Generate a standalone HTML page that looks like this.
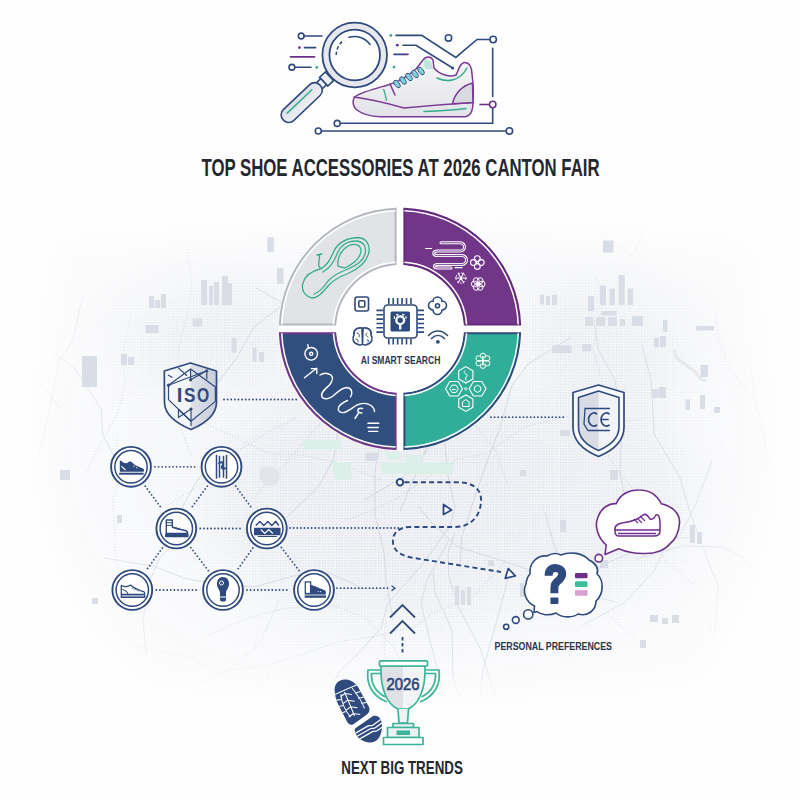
<!DOCTYPE html>
<html><head><meta charset="utf-8"><style>
html,body{margin:0;padding:0;background:#fff;}
body{width:800px;height:800px;overflow:hidden;font-family:"Liberation Sans",sans-serif;}
svg{display:block}
</style></head><body>
<svg width="800" height="800" viewBox="0 0 800 800">
<rect width="800" height="800" fill="#fefefe"/>
<defs>
<pattern id="dots" width="2.8" height="2.8" patternUnits="userSpaceOnUse"><rect x="0" y="0" width="1.2" height="1.2" fill="#c5cbd8"/></pattern>
<filter id="bl" x="-20%" y="-20%" width="140%" height="140%"><feGaussianBlur stdDeviation="16"/></filter>
<radialGradient id="mg" gradientUnits="userSpaceOnUse" cx="400" cy="450" r="330" gradientTransform="translate(400,450) scale(1.15,0.8) translate(-400,-450)">
<stop offset="0" stop-color="#fff" stop-opacity="1"/>
<stop offset="0.7" stop-color="#fff" stop-opacity="0.8"/>
<stop offset="1" stop-color="#fff" stop-opacity="0.35"/>
</radialGradient>
<mask id="mc" maskUnits="userSpaceOnUse" x="0" y="0" width="800" height="800"><g filter="url(#bl2)" fill="#fff"><ellipse cx="400" cy="500" rx="190" ry="125"/><ellipse cx="205" cy="330" rx="100" ry="55"/><ellipse cx="615" cy="340" rx="90" ry="70"/><ellipse cx="580" cy="500" rx="120" ry="105"/></g></mask>
<filter id="bl2" x="-30%" y="-30%" width="160%" height="160%"><feGaussianBlur stdDeviation="22"/></filter>
<mask id="mm" maskUnits="userSpaceOnUse" x="0" y="0" width="800" height="800"><g filter="url(#bl)"><path d="M60,250 Q250,232 420,240 Q600,232 745,250 L765,450 Q755,600 690,675 Q420,700 150,675 Q60,600 45,450 Z" fill="url(#mg)"/></g></mask>
</defs>
<g mask="url(#mm)">
<rect x="0" y="150" width="800" height="650" fill="#f8f9fb"/>
<rect x="0" y="150" width="800" height="650" fill="url(#dots)" opacity="0.26"/>
<g mask="url(#mc)"><rect x="0" y="150" width="800" height="650" fill="#f0f2f6"/><rect x="0" y="150" width="800" height="650" fill="url(#dots)" opacity="0.6"/></g>
<path d="M364,500 L403,477 L433,444 L458,415 L471,384 L472,348 L489,313 L505,285 M364,589 L332,574 L306,573 L286,578 L254,587 L219,585 L184,578 L153,566 L104,558 M777,640 L776,605 L760,572 L742,557 L722,547 L682,546 L636,559 M60,408 L35,378 L24,352 L2,331 L-13,291 L-31,271 L-51,262 L-70,245 M445,444 L448,476 L455,507 L450,526 L421,566 L388,603 L381,628 L356,656 L340,671 L325,700 M27,525 L29,503 L33,476 L41,446 L52,398 L59,361 L73,340 L83,294 M642,345 L651,380 L653,412 L654,434 L666,454 L680,478 L689,509 L705,553 L718,586 L715,635 M116,460 L103,435 L101,409 L86,385 L73,367 L48,348 L30,333 L-9,308 L-29,273 M545,512 L554,545 L566,572 L595,597 L616,602 M256,288 L293,309 L319,342 L339,381 L341,411 L334,458 L319,486 L286,518 M455,532 L448,553 L449,577 L459,608 L481,650 L491,683 L502,717 L513,751 L523,771 M37,699 L59,725 L69,755 L92,785 L118,819 L152,852 L172,871 L193,889 L224,920 M594,320 L598,349 L615,380 L622,425 L620,473 L625,498 M362,358 L374,391 L382,432 L375,470 L375,515 L384,552 L386,581 L393,619 M449,540 L427,580 L421,603 L430,641 L440,679 L445,723 M748,562 L771,597 L781,632 L800,651 L817,683 L819,718 L808,740 L779,769 M190,425 L207,396 L236,359 L254,327 L289,300 L322,292 L348,290 L392,297 M508,579 L495,627 L483,669 L478,716 L464,743 L463,776 L459,819 L457,840 M635,252 L649,214 L672,189 L717,175 L756,163 L799,147 M460,565 L462,536 L474,499 L489,456 L500,428 L512,385 L528,364 L570,338 M418,506 L431,522 L458,547 L503,561 L550,577 L573,577 L617,559 L661,540 L693,537 M207,467 L194,486 L184,504 L173,544 L159,559 L151,578 L143,619 L146,654 M400,511 L410,487 L423,457 L433,426 L441,402 L442,364 L448,328 L467,295 L488,278 M583,625 L624,603 L654,571 L664,550 L681,534 L695,506 L712,461 M433,572 L435,593 L452,630 L453,679 L466,711 L471,746 L470,772 L479,793 L506,817 L533,842" stroke="#d0d5e0" stroke-width="1" fill="none" stroke-linejoin="round"/>
<path d="M131,312 L122,359 L126,381 L118,413 L103,439 L87,471 M347,520 L371,511 L399,497 L438,470 L458,459 L487,453 L524,427 L570,416 L606,423 L644,419 M279,601 L261,641 L239,664 L197,684 L155,694 M602,423 L605,394 L593,349 L603,303 L596,276 M751,369 L756,405 L768,453 L773,494 L766,543 L778,579 L780,607 L784,628 M169,408 L196,419 L226,433 L267,453 L300,455 L336,462 L381,480 M314,689 L280,702 L248,711 L221,718 L193,729 L161,741 M225,685 L211,670 L193,658 L152,649 L105,643 L85,636 L53,599 L10,580 L-22,568 L-40,548 M418,689 L393,646 L364,617 L334,606 L288,608 L264,613 L241,621 L206,636 M506,561 L472,598 L433,613 L414,627 L372,637 L341,641 L303,654 L267,665 L225,671 L200,683 M765,678 L781,666 L794,650 L801,624 L801,581 M714,300 L717,331 L727,364 L754,401 L765,433 L766,478 L758,510 M588,415 L610,459 L632,488 L651,532 L665,560 L700,590 M80,262 L54,239 L44,222 L13,186 L-11,153 L-36,118 L-69,85 L-104,66 M269,673 L245,714 L206,741 L171,769 L152,791 L125,831 L102,845 L78,865 M296,418 L268,432 L248,445 L225,457 L204,483 L166,506 M188,249 L192,288 L188,310 L178,352 L181,374 L178,421 L192,458 M129,593 L115,561 L115,531 L113,501 L120,472 L117,437 M632,256 L596,229 L565,196 L546,155 L543,106 M507,482 L496,451 L469,418 L463,388 L450,365 M343,366 L384,357 L406,347 L454,347 L474,352 M386,620 L384,647 L391,687 L394,714 L405,740 L434,772 M257,494 L281,469 L312,432 L344,403 L363,361 L371,336 L370,292 L389,252 M608,614 L642,646 L655,676 L675,702 L685,733 L685,757 M710,625 L717,652 L723,676 L722,696 L705,738 L691,756 L672,793 L670,827 L668,876 L663,921" stroke="#c9cfdb" stroke-width="1.1" fill="none" stroke-dasharray="1 2"/>
<path d="M675,350 C672,360 690,365 695,372 C700,378 702,382 706,380" stroke="#d5d9e2" stroke-width="3" fill="none"/>
</g>
<rect x="201" y="280" width="6" height="25" fill="#d9dde6"/>
<rect x="209" y="286" width="4" height="19" fill="#d9dde6"/>
<rect x="214" y="282" width="5" height="23" fill="#d9dde6"/>
<rect x="222" y="276" width="6" height="29" fill="#d9dde6"/>
<rect x="228" y="283" width="4" height="22" fill="#d9dde6"/>
<rect x="149" y="296" width="5" height="12" fill="#d9dde6"/>
<rect x="155" y="300" width="5" height="8" fill="#d9dde6"/>
<rect x="161" y="294" width="5" height="14" fill="#d9dde6"/>
<rect x="82" y="356" width="15" height="31" fill="#d9dde6"/>
<rect x="121" y="354" width="6" height="11" fill="#d9dde6"/>
<rect x="128" y="357" width="6" height="8" fill="#d9dde6"/>
<rect x="145.5" y="325" width="13" height="8" fill="#d9dde6"/>
<rect x="192.6" y="318.5" width="9.7" height="8" fill="#d9dde6"/>
<rect x="231.6" y="338" width="5" height="14.6" fill="#d9dde6"/>
<rect x="252.6" y="347.7" width="4" height="14" fill="#d9dde6"/>
<rect x="259" y="352" width="5" height="10" fill="#d9dde6"/>
<rect x="267.3" y="237.3" width="6.5" height="14.7" fill="#d9dde6"/>
<rect x="277" y="268" width="6.5" height="16" fill="#d9dde6"/>
<rect x="588" y="296" width="6" height="15" fill="#d9dde6"/>
<rect x="600" y="285.5" width="6" height="19.5" fill="#d9dde6"/>
<rect x="609.6" y="288.5" width="5.4" height="16.5" fill="#d9dde6"/>
<rect x="618.6" y="275" width="6" height="30" fill="#d9dde6"/>
<rect x="627.6" y="288.5" width="5.4" height="16.5" fill="#d9dde6"/>
<rect x="540" y="294.5" width="4" height="10" fill="#d9dde6"/>
<rect x="546" y="296" width="4" height="9" fill="#d9dde6"/>
<rect x="552" y="295" width="5" height="10" fill="#d9dde6"/>
<rect x="585" y="317" width="8" height="9" fill="#d9dde6"/>
<rect x="596" y="317" width="9" height="9" fill="#d9dde6"/>
<rect x="608" y="317" width="9" height="9" fill="#d9dde6"/>
<rect x="620" y="319" width="5" height="7" fill="#d9dde6"/>
<rect x="632" y="316" width="11" height="10" fill="#d9dde6"/>
<rect x="601.5" y="311" width="15" height="4.5" fill="#d9dde6"/>
<rect x="663" y="320" width="4.5" height="12" fill="#d9dde6"/>
<rect x="654" y="338" width="5" height="9" fill="#d9dde6"/>
<rect x="660" y="336" width="6" height="11" fill="#d9dde6"/>
<rect x="552" y="345.5" width="19.5" height="7.5" fill="#d9dde6"/>
<rect x="582" y="344" width="9" height="7.5" fill="#d9dde6"/>
<rect x="652.5" y="389" width="6" height="9" fill="#d9dde6"/>
<rect x="659" y="387" width="7" height="11" fill="#d9dde6"/>
<rect x="700.5" y="365" width="7.5" height="12" fill="#d9dde6"/>
<rect x="685.5" y="399.5" width="4.5" height="10.5" fill="#d9dde6"/>
<rect x="714" y="407" width="6" height="6" fill="#d9dde6"/>
<rect x="696" y="326" width="18" height="4.5" fill="#d9dde6"/>
<rect x="603" y="240.5" width="10.5" height="12" fill="#d9dde6"/>
<rect x="365.6" y="452.7" width="11.4" height="8.3" fill="#d9dde6"/>
<rect x="455" y="586" width="4" height="19" fill="#d9dde6"/>
<rect x="461" y="590" width="4" height="15" fill="#d9dde6"/>
<rect x="467" y="587" width="4" height="18" fill="#d9dde6"/>
<rect x="520" y="583" width="4" height="14" fill="#d9dde6"/>
<rect x="526" y="587" width="4" height="10" fill="#d9dde6"/>
<rect x="600" y="560" width="8" height="8" fill="#d9dde6"/>
<rect x="640" y="640" width="6" height="8" fill="#d9dde6"/>
<rect x="488" y="560" width="6" height="6" fill="#d9dde6"/>
<rect x="690" y="525" width="5" height="18" fill="#d9dde6"/>
<rect x="697" y="532" width="5" height="12" fill="#d9dde6"/>
<rect x="650" y="615" width="8" height="7" fill="#d9dde6"/>
<rect x="662" y="618" width="6" height="6" fill="#d9dde6"/>
<rect x="672" y="615" width="7" height="8" fill="#d9dde6"/>
<rect x="560" y="430" width="10" height="6" fill="#d9dde6"/>
<rect x="520" y="470" width="6" height="6" fill="#d9dde6"/>
<rect x="610" y="470" width="8" height="10" fill="#d9dde6"/>
<rect x="640" y="500" width="5" height="5" fill="#d9dde6"/>
<rect x="560" y="520" width="6" height="12" fill="#d9dde6"/>
<rect x="117" y="515" width="5" height="8" fill="#d9dde6"/>
<rect x="92" y="598" width="6" height="6" fill="#d9dde6"/>
<rect x="60" y="470" width="10" height="10" fill="#d9dde6"/>
<rect x="700" y="395" width="5" height="14" fill="#d9dde6"/>
<path d="M260,470 C265,465 275,466 279,472 C282,480 276,487 268,486 C262,485 258,478 260,470Z" fill="#e2e5ec"/>
<path d="M302,440 H341 V449.5 H305Z M380,462.5 H455 L452,474 H383Z M385,452 H400 V460 H388Z M405,455 H425 L420,462 H405Z M332,462 H350 L352,480 H336Z" fill="#dcefe8"/>
<g stroke="#2f4a7e" stroke-width="1.6" fill="none" stroke-linecap="round">
<circle cx="301.2" cy="36" r="2.9" fill="#fff"/><path d="M304.2,36H322"/>
<path d="M304.4,47.6H315.6"/>
<circle cx="291.9" cy="67.25" r="2.9" fill="#fff"/><path d="M294.9,67.25H311"/>
<path d="M396,35.4H421.7L455.8,57.4L477,39.5H490"/>
<circle cx="493.2" cy="39.5" r="3.2" fill="#fff"/>
<circle cx="448.5" cy="37.9" r="3.2" fill="#fff"/>
<path d="M403,45.2H416L451.5,67.2"/>
<path d="M394,54.4H404"/>
<path d="M492.7,48.4V96.4"/>
<path d="M492.7,108V123.3H340.3"/>
<circle cx="337.2" cy="123.4" r="3" fill="#fff"/>
<path d="M321.4,131H506.2"/>
<circle cx="318.3" cy="131" r="3" fill="#fff"/>
<circle cx="509.4" cy="131" r="3.2" fill="#fff"/>
</g>
<path d="M290.5,56.9H314.5" stroke="#6e2f8d" stroke-width="1.6" stroke-linecap="round"/>
<path d="M404,54.4H408" stroke="#6e2f8d" stroke-width="1.6" stroke-linecap="round"/>
<path d="M479.4,104.5H489.4" stroke="#6e2f8d" stroke-width="1.6"/>
<circle cx="492.7" cy="104.5" r="3.2" fill="#fff" stroke="#6e2f8d" stroke-width="1.6"/>
<circle cx="452.6" cy="68" r="1.6" fill="#2f4a7e"/>
<circle cx="299.4" cy="47.6" r="1.4" fill="#6e2f8d"/>
<circle cx="316.75" cy="67.4" r="1.4" fill="#36ad91"/>
<circle cx="390.8" cy="35.4" r="1.4" fill="#36ad91"/>
<circle cx="397.3" cy="45.2" r="1.4" fill="#6e2f8d"/>
<circle cx="394" cy="67.1" r="1.4" fill="#36ad91"/>
<defs><linearGradient id="hg" x1="0" y1="0" x2="0" y2="1"><stop offset="0" stop-color="#eef0f4"/><stop offset="1" stop-color="#dcdfe7"/></linearGradient></defs>
<g transform="translate(320,85.2) rotate(136.5)" stroke="#2f4a7e" stroke-width="1.6">
<rect x="-13" y="-6" width="8" height="12" fill="#eceef3"/>
<rect x="-5" y="-4.2" width="5.5" height="8.4" fill="#f1f2f5"/>
<rect x="0" y="-7.5" width="50.5" height="15" rx="7" fill="url(#hg)"/>
<path d="M9,2.3H43" stroke="#36ad91" stroke-width="1.5" stroke-linecap="round"/>
</g>
<circle cx="354.7" cy="55" r="28.75" fill="none" stroke="#e6e8ee" stroke-width="6.9"/>
<circle cx="354.7" cy="55" r="32.3" fill="none" stroke="#2f4a7e" stroke-width="1.8"/>
<circle cx="354.7" cy="55" r="25.3" fill="#fff" stroke="#2f4a7e" stroke-width="1.8"/>
<path d="M336.2,55 A19,19 0 0 1 344,40" fill="none" stroke="#2f4a7e" stroke-width="1.5" stroke-dasharray="3.5 2.2"/>
<path d="M349,37.3 A19,19 0 0 1 370,44.5" fill="none" stroke="#2f4a7e" stroke-width="1.5" stroke-linecap="round"/>
<defs><linearGradient id="sg" x1="0" y1="0" x2="0" y2="1"><stop offset="0" stop-color="#f6f6f8"/><stop offset="1" stop-color="#e2e3e8"/></linearGradient></defs>
<g fill="none" stroke="#7b3a94" stroke-width="1.5" stroke-linejoin="round" stroke-linecap="round">
<path fill="url(#sg)" d="M357,110 C352,106 352,99 356,96 C362,92 374,89 388,85 C398,82 408,76 416,69 L423,60 C426,56 431,56 433,60 L434,68 C440,75 450,77.5 456,75 C459,70 459,64 464,62.5 C469,62 472,67 472,74 C473,82 474,92 473,102 C473,110 471,116 465,116.7 L380,116.7 C370,116.5 362,114 357,110 Z"/>
<path d="M354,97 C370,99 390,104 404,108 C425,106 450,104 473,102.5"/>
<path fill="#d9dae0" d="M452.5,103.8 C455,93 462,86 472.5,83 L473,102.5 Z"/>
<path d="M390,84 L395,95"/>
</g>
<path d="M424,111.5 C440,111 455,110 466,108.5" fill="none" stroke="#36ad91" stroke-width="1.5" stroke-linecap="round"/>
<path d="M437,78 C447,83 460,81 467,68" fill="none" stroke="#36ad91" stroke-width="1.5" stroke-linecap="round"/>
<path d="M383.5,89 C385,93 386,97 386.5,101" fill="none" stroke="#36ad91" stroke-width="1.3"/>
<path d="M423,61 C427,58 431,60 432,65 L433,69 L425,69 Z" fill="#bfe6dd" stroke="none"/>
<ellipse cx="397" cy="84" rx="2.3" ry="4.3" transform="rotate(-35 397 84)" fill="#7fd3e0" stroke="#2f4a7e" stroke-width="0.9"/>
<ellipse cx="403" cy="80.5" rx="2.3" ry="4.3" transform="rotate(-35 403 80.5)" fill="#7fd3e0" stroke="#2f4a7e" stroke-width="0.9"/>
<ellipse cx="409" cy="77" rx="2.3" ry="4.3" transform="rotate(-35 409 77)" fill="#7fd3e0" stroke="#2f4a7e" stroke-width="0.9"/>
<ellipse cx="415" cy="74" rx="2.3" ry="4.3" transform="rotate(-35 415 74)" fill="#7fd3e0" stroke="#2f4a7e" stroke-width="0.9"/>
<ellipse cx="421" cy="71" rx="2.3" ry="4.3" transform="rotate(-35 421 71)" fill="#7fd3e0" stroke="#2f4a7e" stroke-width="0.9"/>
<circle cx="400" cy="328.9" r="121.7" fill="#fff"/>
<path d="M395.60,208.78 A120.2,120.2 0 0 0 279.88,324.50 L335.35,324.50 A64.8,64.8 0 0 1 395.60,264.25 Z" fill="#e1e3e6" stroke="#b4b7bd" stroke-width="2"/>
<path d="M395.60,210.68 A118.3,118.3 0 0 0 281.78,324.50" fill="none" stroke="#fff" stroke-width="1.5"/>
<path d="M333.45,324.50 A66.7,66.7 0 0 1 395.60,262.35" fill="none" stroke="#fff" stroke-width="1.5"/>
<path d="M404.40,208.78 A120.2,120.2 0 0 1 520.12,324.50 L464.65,324.50 A64.8,64.8 0 0 0 404.40,264.25 Z" fill="#723689" stroke="#64287c" stroke-width="2"/>
<path d="M404.40,210.68 A118.3,118.3 0 0 1 518.22,324.50" fill="none" stroke="#fff" stroke-width="1.5"/>
<path d="M466.55,324.50 A66.7,66.7 0 0 0 404.40,262.35" fill="none" stroke="#fff" stroke-width="1.5"/>
<path d="M395.60,449.02 A120.2,120.2 0 0 1 279.88,333.30 L335.35,333.30 A64.8,64.8 0 0 0 395.60,393.55 Z" fill="#314f7e" stroke="#723689" stroke-width="2"/>
<path d="M395.60,447.12 A118.3,118.3 0 0 1 281.78,333.30" fill="none" stroke="#fff" stroke-width="1.5"/>
<path d="M333.45,333.30 A66.7,66.7 0 0 0 395.60,395.45" fill="none" stroke="#fff" stroke-width="1.5"/>
<path d="M404.40,449.02 A120.2,120.2 0 0 0 520.12,333.30 L464.65,333.30 A64.8,64.8 0 0 1 404.40,393.55 Z" fill="#31ae9a" stroke="#2f4a7e" stroke-width="2"/>
<path d="M404.40,447.12 A118.3,118.3 0 0 0 518.22,333.30" fill="none" stroke="#fff" stroke-width="1.5"/>
<path d="M466.55,333.30 A66.7,66.7 0 0 1 404.40,395.45" fill="none" stroke="#fff" stroke-width="1.5"/>
<circle cx="400" cy="328.9" r="63.599999999999994" fill="#fff"/>
<g fill="none" stroke="#36ad91" stroke-width="1.3" stroke-linecap="round" stroke-linejoin="round">
<path d="M312,298 C304,296 301,289 303,283 C305,276 312,271 320,269 C327,266 330,260 334,251 C338,243 347,238 358,237.5 C366,238 370,244 369,252 C367,262 360,268 349,273 C339,277 333,280 328,286 C323,292 318,298 312,298 Z"/>
<path d="M314,294 C320,292 324,287 328,281 C333,275 340,272 348,269 C358,265 365,259 365.5,251 C366,245 362,241 356,241 C347,241 340,246 337,254 C334,262 330,268 323,272"/>
<path d="M338,266 C337,258 341,250 348,246 C354,243 360,244 361,250 C361,257 355,263 345,268 Z"/>
<path d="M317,255 L322,254 M319.5,254.5 L319,262 C318,265 319,268 322,269"/>
</g>
<path d="M441,242.8 H460 C466,242.8 466,251 460,251 H437.5 C432.5,251 432.5,255.6 437.5,255.6 H462 C468,255.6 468,264.4 462,264.4 H438.5 C433,264.4 433,268 438.5,268 H451" fill="none" stroke="#ffffff" stroke-width="3" stroke-linecap="round" stroke-linejoin="round"/>
<path d="M441,242.8 H460 C466,242.8 466,251 460,251 H437.5 C432.5,251 432.5,255.6 437.5,255.6 H462 C468,255.6 468,264.4 462,264.4 H438.5 C433,264.4 433,268 438.5,268 H451" fill="none" stroke="#6e2f8d" stroke-width="0.9" stroke-linecap="round"/>
<path d="M425.5,248.5 H431.5 M455,267.6 H462" stroke="#ffffff" stroke-width="1.2" stroke-linecap="round"/>
<g fill="none" stroke="#ffffff" stroke-width="1.1"><circle cx="481.15" cy="262.60" r="2.94"/><circle cx="477.30" cy="266.45" r="2.94"/><circle cx="473.45" cy="262.60" r="2.94"/><circle cx="477.30" cy="258.75" r="2.94"/><circle cx="477.3" cy="262.6" r="1.26"/></g>
<g fill="none" stroke="#ffffff" stroke-width="1.0"><circle cx="482.05" cy="284.00" r="2.94"/><circle cx="480.12" cy="287.33" r="2.94"/><circle cx="476.27" cy="287.33" r="2.94"/><circle cx="474.35" cy="284.00" r="2.94"/><circle cx="476.27" cy="280.67" r="2.94"/><circle cx="480.12" cy="280.67" r="2.94"/><circle cx="478.2" cy="284" r="1.26"/></g>
<path d="M460.9,278 L466.90,278.00 M460.9,278 L463.90,283.20 M460.9,278 L457.90,283.20 M460.9,278 L454.90,278.00 M460.9,278 L457.90,272.80 M460.9,278 L463.90,272.80" stroke="#ffffff" stroke-width="1.1"/>
<circle cx="460.9" cy="278" r="5" fill="none" stroke="#ffffff" stroke-width="0.9" stroke-dasharray="2 1.3"/>
<g fill="none" stroke="#ffffff" stroke-width="1.4" stroke-linecap="round" stroke-linejoin="round">
<circle cx="311.2" cy="353.8" r="6.3"/><circle cx="311.2" cy="353.8" r="1.6"/><path d="M307.8,344.6 L308.3,348"/>
<path d="M304.5,377.8 L316.5,368.3 M311.3,368.6 H316.8 V373.6"/>
<path d="M320,375 C323,373 327,372.5 331,375 C334,378 332,382 329,385.5 C325,389 320,393 322,397 C324,400 329,399 333,396 C337,392.5 342,387.5 347,387.5 C352,388 353,393 350.5,397 M347.5,400.5 C344,402 340,404 338.5,407.5 C337.5,411 340,413 344,412.5 C348,411.5 352,408 356,405.5 C361,403 367,403 371,405.5 C373.5,407.5 374.5,409.5 374.5,411.5"/>
<path d="M362.5,408.5 C359,407.5 357,409.5 358,411.5 C359,413 361.5,413 362,413 M358.5,413 L355,418.5"/>
<path d="M368,423.2 H378.8 M368,427.5 H378.3 M368.7,431.4 H377.7"/>
</g>
<path d="M472.90,378.90 L465.80,383.00 L458.70,378.90 L458.70,370.70 L465.80,366.60 L472.90,370.70Z M462.40,388.80 L458.20,396.07 L449.80,396.07 L445.60,388.80 L449.80,381.53 L458.20,381.53Z M486.00,388.80 L481.80,396.07 L473.40,396.07 L469.20,388.80 L473.40,381.53 L481.80,381.53Z M472.90,407.30 L465.80,411.40 L458.70,407.30 L458.70,399.10 L465.80,395.00 L472.90,399.10Z" fill="none" stroke="#ffffff" stroke-width="1.1"/>
<circle cx="465.8" cy="388.8" r="1.2" fill="none" stroke="#ffffff" stroke-width="0.9"/>
<g fill="none" stroke="#ffffff" stroke-width="1"><path d="M458.20,388.80 L456.10,392.44 L451.90,392.44 L449.80,388.80 L451.90,385.16 L456.10,385.16Z"/><path d="M452,389.5 H455.5"/><path d="M480.72,390.60 L477.60,392.40 L474.48,390.60 L474.48,387.00 L477.60,385.20 L480.72,387.00Z"/><path d="M465.3,370.5 C463.5,371.5 464,373.5 466,374 C467.5,374.5 467.5,377 465.5,377.5 M465.8,377.5 V380.5"/><path d="M462.5,406.5 L462.5,402 L465.8,399.5 L469.1,402 L469.1,406.5 Z"/></g>
<g fill="#36ad91" stroke="#ffffff" stroke-width="1"><circle cx="482.90" cy="355.80" r="2.6"/><circle cx="487.23" cy="358.30" r="2.6"/><circle cx="487.23" cy="363.30" r="2.6"/><circle cx="482.90" cy="365.80" r="2.6"/><circle cx="478.57" cy="363.30" r="2.6"/><circle cx="478.57" cy="358.30" r="2.6"/><circle cx="482.9" cy="360.8" r="3.2" stroke="none"/></g>
<path d="M482.9,356 V365.6 M478.3,360.8 H487.5" stroke="#ffffff" stroke-width="1.6"/>
<g fill="none" stroke="#2f4a7e" stroke-width="1.6" stroke-linecap="round" stroke-linejoin="round">
<rect x="384" y="305" width="33" height="33" rx="3.5"/>
<path d="M388.80,298 V304 M388.80,338.5 V344.5 M393.23,298 V304 M393.23,338.5 V344.5 M397.66,298 V304 M397.66,338.5 V344.5 M402.09,298 V304 M402.09,338.5 V344.5 M406.52,298 V304 M406.52,338.5 V344.5 M410.95,298 V304 M410.95,338.5 V344.5 M376.4,310.40 H383 M417.5,310.40 H424 M376.4,314.75 H383 M417.5,314.75 H424 M376.4,319.10 H383 M417.5,319.10 H424 M376.4,323.45 H383 M417.5,323.45 H424 M376.4,327.80 H383 M417.5,327.80 H424 M376.4,332.15 H383 M417.5,332.15 H424" stroke-width="1.6" stroke-linecap="butt"/>
<rect x="355" y="297" width="13.5" height="14" rx="2"/><rect x="358.8" y="300.8" width="6" height="6.2" rx="1"/>
<path d="M437.5,301.5 m-4.5,0 a4.5,4.5 0 1 1 9,0 M437.5,310 m-4.5,0 a4.5,4.5 0 1 0 9,0 M433,301 a4.5,4.5 0 1 0 0,9 M442,301 a4.5,4.5 0 1 1 0,9"/><circle cx="437.5" cy="305.8" r="2"/>
<path d="M428.5,335.5 C434,329.5 442,329.5 447.5,335.5 M431.5,338.5 C435.5,334.5 440.5,334.5 444.5,338.5"/>
<path d="M362,328 C356,327 353,331 354,335 C352,338 353,343 357,344 C359,345.5 362,345 362.5,344 Z M363,328 C369,327 372,331 371,335 C373,338 372,343 368,344 C366,345.5 363,345 362.5,344 Z"/>
<path d="M357,333 C359,333 360,335 359,337 M367,333 C365,334 366,336 368,337 M356,339 C358,339 359,341 358,342 M367,340 C369,339 369,342 368,342" stroke-width="1"/>
</g>
<circle cx="437.9" cy="341.8" r="1.9" fill="#2f4a7e"/>
<rect x="390.5" y="311.5" width="19.5" height="20" rx="1.5" fill="#2f4a7e"/>
<g fill="none" stroke="#fff" stroke-width="2.3"><circle cx="400.2" cy="320.3" r="3.9"/><path d="M400.2,324 V329.5 M395,317.5 H393.8 M405.4,317.5 H406.6 M397.5,315.5 L397,314 M403,315.5 L403.5,314"/></g>
<defs><linearGradient id="isog" x1="0" y1="0" x2="1" y2="0"><stop offset="0" stop-color="#dfe2e9"/><stop offset="1" stop-color="#c9ced9"/></linearGradient><linearGradient id="ceg" x1="0" y1="0" x2="1" y2="0"><stop offset="0" stop-color="#d8dbe3"/><stop offset="1" stop-color="#e4e6ec"/></linearGradient></defs>
<path d="M190.5,363 L216.5,371 L216.5,403 C216,416 204,424 191,429.5 C178,424 165,416 164.5,403 L164.3,371 Z" fill="#f4f5f8"/>
<path d="M190.5,363 L216.5,371 L216.5,403 C216,416 204,424 191,429.5 Z" fill="url(#isog)"/>
<path d="M190.5,363 L216.5,371 L216.5,403 C216,416 204,424 191,429.5 C178,424 165,416 164.5,403 L164.3,371 Z" fill="none" stroke="#2f4a7e" stroke-width="1.7" stroke-linejoin="round"/>
<g fill="none" stroke="#2f4a7e" stroke-width="1.2" stroke-linejoin="round"><path d="M190.6,369 L215.4,387 L215.4,401.4 L191,421.2 L168.5,399.6 L168.5,385.2 Z"/><path d="M168.5,385.2 L206.8,370.8 V379.4 M190.6,369 V379.8 M178,367.6 L187,375.8 M190.6,379.8 L206.8,370.8"/><path d="M191,409 V426 M178.5,409.5 V417.6 L191,409 M178.5,409.5 L191,421.2"/></g>
<circle cx="190.6" cy="379.8" r="1.6" fill="#2f4a7e"/>
<circle cx="206.8" cy="370.8" r="1.6" fill="#2f4a7e"/>
<circle cx="168.5" cy="385.2" r="1.6" fill="#2f4a7e"/>
<circle cx="191" cy="409" r="1.6" fill="#2f4a7e"/>
<path d="M168,375 L172.5,377.5" stroke="#2f4a7e" stroke-width="1.2"/>
<g font-family="Liberation Sans" font-weight="bold" font-size="20.4" fill="#2f4a7e"><text x="176.7" y="401.9">I</text><text x="184.1" y="401.9" textLength="11.4" lengthAdjust="spacingAndGlyphs">S</text><text x="197.1" y="401.9" textLength="12.2" lengthAdjust="spacingAndGlyphs">O</text></g>
<path d="M224,399.5 L299,399.5" stroke="#2f4a7e" stroke-width="1.8" stroke-dasharray="0.01 3.6" stroke-linecap="round" fill="none"/>
<path d="M598.5,385 L624,392.5 L624,427 C624,442 612,451 598.5,456.5 C585,451 573,442 573,427 L573,392.5 Z" fill="#f7f8fa" stroke="#2f4a7e" stroke-width="1.7" stroke-linejoin="round"/>
<path d="M598.5,391 L619,397.5 L619,427 C619,439 609,446 598.5,450.5 C588,446 578.5,439 578.5,427 L578.5,397.5 Z" fill="#f2f3f6"/>
<path d="M598.5,391 L578.5,397.5 L578.5,427 C578.5,439 588,446 598.5,450.5 Z" fill="#d9dce4"/>
<path d="M598.5,391 L619,397.5 L619,427 C619,439 609,446 598.5,450.5 C588,446 578.5,439 578.5,427 L578.5,397.5 Z" fill="none" stroke="#2f4a7e" stroke-width="1.6" stroke-linejoin="round"/>
<g fill="none" stroke="#2f4a7e" stroke-width="1.3" stroke-linecap="round"><path d="M609.5,408.5 H585 L584,424 L588,430.5 H609.5"/><path d="M596.5,413.8 A5.2,6.6 0 1 0 596.5,425.2" stroke-width="1.7"/><path d="M609,413.8 A5.2,6.6 0 1 0 609,425.2 M602.5,419.5 H608" stroke-width="1.7"/></g>
<path d="M491,417.2 L566,417.2" stroke="#2f4a7e" stroke-width="1.8" stroke-dasharray="0.01 3.6" stroke-linecap="round" fill="none"/>
<path d="M155.0,466.8 L197.5,466.8" stroke="#2f4a7e" stroke-width="1.8" stroke-dasharray="0.01 3.6" stroke-linecap="round" fill="none"/>
<path d="M145.20360008863653,486.1457422840811 L162.09639991136348,509.1542577159189" stroke="#2f4a7e" stroke-width="1.8" stroke-dasharray="0.01 3.6" stroke-linecap="round" fill="none"/>
<path d="M207.31679624977812,486.16070069444004 L190.4832037502219,509.1392993055599" stroke="#2f4a7e" stroke-width="1.8" stroke-dasharray="0.01 3.6" stroke-linecap="round" fill="none"/>
<path d="M235.70360008863653,486.1457422840811 L252.59639991136348,509.1542577159189" stroke="#2f4a7e" stroke-width="1.8" stroke-dasharray="0.01 3.6" stroke-linecap="round" fill="none"/>
<path d="M200.3,528.5 L242.8,528.5" stroke="#2f4a7e" stroke-width="1.8" stroke-dasharray="0.01 3.6" stroke-linecap="round" fill="none"/>
<path d="M162.335276251287,548.0188752396784 L146.264723748713,570.4811247603216" stroke="#2f4a7e" stroke-width="1.8" stroke-dasharray="0.01 3.6" stroke-linecap="round" fill="none"/>
<path d="M190.81411699326205,547.61387998042 L208.48588300673796,570.88612001958" stroke="#2f4a7e" stroke-width="1.8" stroke-dasharray="0.01 3.6" stroke-linecap="round" fill="none"/>
<path d="M252.87735852322612,548.0489144023195 L236.9226414767739,570.4510855976805" stroke="#2f4a7e" stroke-width="1.8" stroke-dasharray="0.01 3.6" stroke-linecap="round" fill="none"/>
<path d="M281.412103932268,547.5390760981882 L299.387896067732,570.9609239018118" stroke="#2f4a7e" stroke-width="1.8" stroke-dasharray="0.01 3.6" stroke-linecap="round" fill="none"/>
<path d="M156.3,590.0 L199.0,590.0" stroke="#2f4a7e" stroke-width="1.8" stroke-dasharray="0.01 3.6" stroke-linecap="round" fill="none"/>
<path d="M247.0,590.0 L290.0,590.0" stroke="#2f4a7e" stroke-width="1.8" stroke-dasharray="0.01 3.6" stroke-linecap="round" fill="none"/>
<path d="M290,528 L399,528" stroke="#2f4a7e" stroke-width="1.8" stroke-dasharray="0.01 3.6" stroke-linecap="round" fill="none"/>
<path d="M337,588.2 L391,588.2" stroke="#2f4a7e" stroke-width="1.8" stroke-dasharray="0.01 3.6" stroke-linecap="round" fill="none"/>
<path d="M391.5,585.8 L395,588.2 L391.5,590.6" fill="none" stroke="#2f4a7e" stroke-width="1.3"/>
<circle cx="131" cy="466.8" r="19.9" fill="#fff" stroke="#2f4a7e" stroke-width="1.9"/>
<circle cx="131" cy="466.8" r="16.2" fill="none" stroke="#2f4a7e" stroke-width="1.5"/>
<circle cx="221.5" cy="466.8" r="19.9" fill="#fff" stroke="#2f4a7e" stroke-width="1.9"/>
<circle cx="221.5" cy="466.8" r="16.2" fill="none" stroke="#2f4a7e" stroke-width="1.5"/>
<circle cx="176.3" cy="528.5" r="19.9" fill="#fff" stroke="#2f4a7e" stroke-width="1.9"/>
<circle cx="176.3" cy="528.5" r="16.2" fill="none" stroke="#2f4a7e" stroke-width="1.5"/>
<circle cx="266.8" cy="528.5" r="19.9" fill="#fff" stroke="#2f4a7e" stroke-width="1.9"/>
<circle cx="266.8" cy="528.5" r="16.2" fill="none" stroke="#2f4a7e" stroke-width="1.5"/>
<circle cx="132.3" cy="590" r="19.9" fill="#fff" stroke="#2f4a7e" stroke-width="1.9"/>
<circle cx="132.3" cy="590" r="16.2" fill="none" stroke="#2f4a7e" stroke-width="1.5"/>
<circle cx="223" cy="590" r="19.9" fill="#fff" stroke="#2f4a7e" stroke-width="1.9"/>
<circle cx="223" cy="590" r="16.2" fill="none" stroke="#2f4a7e" stroke-width="1.5"/>
<circle cx="314" cy="590" r="19.9" fill="#fff" stroke="#2f4a7e" stroke-width="1.9"/>
<circle cx="314" cy="590" r="16.2" fill="none" stroke="#2f4a7e" stroke-width="1.5"/>
<g transform="translate(131,466.8)"><path d="M-11.2,-6 L-9.6,-6 C-8.5,-4.2 -5.5,-3 -3.2,-4 C-2.2,-5.6 0,-5.8 1.2,-4.4 C4,-1.2 9,0.6 12,1.6 C13.6,2.4 13.4,4.6 12.2,5 L-11.2,5 Z" fill="#2f4a7e"/><path d="M-11.8,5.9 H12.6 V7.9 H-11.8 Z" fill="#2f4a7e"/><path d="M-9.5,-0.5 L-5.5,3.2" stroke="#fff" stroke-width="1.1"/><path d="M2,-1 L3.5,0 M5,0.5 L6.5,1.5" stroke="#fff" stroke-width="0.8"/></g>
<g transform="translate(214.5,454.8)" fill="none" stroke="#2f4a7e" stroke-width="1.5"><path d="M2,0 V24 M12,0 V24 M5,1 V23 M9,1 V23"/><path d="M4,9 C7,6 10,8 8,11 C6,13 9,15 11,13" stroke-width="2.2"/></g>
<g transform="translate(176.3,528.5)" fill="none" stroke="#2f4a7e" stroke-width="1.4" stroke-linejoin="round"><path d="M-10,-8.5 H-4 V-1.5 C-1,0 4,1 9,2 C10.5,2.4 11.3,3.5 11.3,5 H-10 Z"/><path d="M-10,-5.8 H-4 M-10,-3.2 H-4" stroke-width="1"/><path d="M-10.6,5.6 H11.6 V8 H-10.6Z" fill="#2f4a7e"/><path d="M-1,0.5 L0,-1.5 M2,1.2 L3,-0.8" stroke-width="0.9"/></g>
<g transform="translate(254.8,520.5)" fill="none" stroke="#2f4a7e" stroke-width="1.5"><path d="M1,5 L5,1 L9,5 L13,1 L17,5 L21,1 L24,5"/><path d="M0,8 H25 V14 H0 Z" fill="#2f4a7e"/><path d="M6,9 L10,13 L14,9 L18,13" stroke="#fff" stroke-width="1.2"/><path d="M3,16 H22" stroke-width="1"/></g>
<g transform="translate(132.3,590)" fill="none" stroke="#2f4a7e" stroke-width="1.3" stroke-linejoin="round"><path d="M-11,-4.5 C-9,-3.5 -6,-3 -4,-3.8 C-3,-5 -1.5,-5 -0.5,-4 C3,-1 8,0.5 11.2,1.6 C12.5,2.2 12.6,3.6 12,4.4 H-11 Z"/><path d="M-11,4.4 V7.4 H12.4 V4.6" /><path d="M-11,6 H12.2" stroke-width="0.9"/><path d="M-10,-0.5 C-7,0 -5,2 -4.2,4.4" stroke-width="1.1"/><path d="M0,-2 L1.5,-0.5 M2.5,-1 L4,0.5 M5,0 L6.5,1.5" stroke-width="0.8"/></g>
<g transform="translate(217,577)"><path d="M6,0 C10,0 12,3 12,7 C12,11 9,13 9,16 V23 C9,25 3,25 3,23 V16 C3,13 0,11 0,7 C0,3 2,0 6,0Z" fill="#2f4a7e"/><circle cx="4.5" cy="6" r="2" fill="none" stroke="#fff" stroke-width="1"/><path d="M3,20 H9" stroke="#fff" stroke-width="1"/></g>
<g transform="translate(314,590)"><path d="M-3.6,-5.2 C0,-4.5 3,-3 5,-2 C8,-0.8 11.5,0 11.8,1.6 V4 H-3.6 Z" fill="#2f4a7e"/><rect x="-8.7" y="-8.1" width="5.3" height="11.6" fill="#fff" stroke="#2f4a7e" stroke-width="1.3"/><path d="M-9.3,4.3 H11.9 V7.8 H-9.3 Z" fill="#2f4a7e"/><path d="M-9.3,5.2 H11.9" stroke="#fff" stroke-width="0.6"/><circle cx="4.2" cy="1.6" r="0.6" fill="#fff"/><circle cx="6.5" cy="1.6" r="0.6" fill="#fff"/></g>
<circle cx="400" cy="482.2" r="3.2" fill="#fff" stroke="#2f4a7e" stroke-width="2"/>
<path d="M404.5,482.2 H457 C474,482.2 482,490 481,502 C480,517 470,527 455,527 H410 C397,527 392,535 393,543 C394,552 403,556.5 414,558 L501,572" fill="none" stroke="#2f4a7e" stroke-width="1.9" stroke-dasharray="5 3.2"/>
<path d="M508.3,568.6 L515.4,575.8 L505.2,578.4 Z" fill="#fff" stroke="#2f4a7e" stroke-width="1.8" stroke-linejoin="round"/>
<path d="M443.5,504.5 L451.5,510 L443.5,514.5 Z" fill="#fff" stroke="#2f4a7e" stroke-width="1.8" stroke-linejoin="round"/>
<g fill="none" stroke="#2f4a7e" stroke-width="1.8"><path d="M390,617.5 L402.5,605 L415,617.5"/><path d="M390,633.5 L402.5,621 L415,633.5"/><path d="M402.5,637 V655" stroke-dasharray="3.4 2.6"/></g>
<path d="M605,554.4 L606.25,545 C598,538 594,526 598,517 C601,508 609,503 616.25,503.75 C620,494 630,489.5 639,490 C649,490 657,495 661.25,503.75 C672,506 680,513 679.5,523 C679,534 674,541 670,543.75 C665,550 655,554 643,553.5 C632,553.5 624,551 618.75,548.75 Z" fill="#fff" stroke="#6e2f8d" stroke-width="1.6" stroke-linejoin="round"/>
<circle cx="598.8" cy="558.2" r="3.8" fill="#fff" stroke="#6e2f8d" stroke-width="1.6"/>
<g fill="none" stroke="#6e2f8d" stroke-width="1.5" stroke-linejoin="round"><path d="M615,531 C614,526 617,524 622,523 C630,522 638,520 643,515 C646,513 648,516 650,519 C653,520 655,517 656,515 C659,514 660,518 660,523 V531 C660,535 657,536 654,536 H619 C616,536 615,534 615,531Z"/><path d="M615,530 H660 M618,533.5 H656"/><path d="M640,516 L645,521 M637,518 L642,523 M634,519 L638,523" stroke-width="1.1"/></g>
<path d="M534.5,606 C526,602 522,592 526,584 C526.5,579 528,576 530,574 C529,563 537,555 547,556 C552,553 557,553 561,555 C570,551 583,553 589,560 C596,563 599,569 597,574 C604,580 604,594 596,601 C596,610 588,617 578,614 C573,618 562,618 556,613 C549,616 541,615 537,611.5 L534,612.5 Z" fill="#fff" stroke="#2f4a7e" stroke-width="1.6" stroke-linejoin="round"/>
<circle cx="528.2" cy="614.4" r="4.6" fill="#fff" stroke="#2f4a7e" stroke-width="1.6"/>
<circle cx="515.8" cy="620" r="3.4" fill="#fff" stroke="#2f4a7e" stroke-width="1.6"/>
<circle cx="506.2" cy="626.8" r="2.6" fill="#fff" stroke="#2f4a7e" stroke-width="1.6"/>
<path d="M548.6,575.8 C548.6,570.2 551.5,568 555.2,568 C559.3,568 562.2,570.3 562.2,574 C562.2,577.6 559.7,579.6 557.2,581.6 C555.2,583.2 554.4,585 554.4,588 V593.2" fill="none" stroke="#2f4a7e" stroke-width="8"/><rect x="550.4" y="597.4" width="8" height="6.7" rx="0.8" fill="#2f4a7e"/>
<rect x="575" y="573" width="12.5" height="5.2" rx="1" fill="#6d3089"/>
<rect x="575" y="581.3" width="12.5" height="5.8" rx="1.2" fill="#3dbf9c"/>
<rect x="575" y="590.3" width="12.5" height="5.4" rx="1" fill="#d8a0d0"/>
<defs><linearGradient id="cupg" x1="0" y1="0" x2="1" y2="0"><stop offset="0" stop-color="#dfe1e7"/><stop offset="0.5" stop-color="#dfe1e7"/><stop offset="0.5" stop-color="#f3f4f6"/><stop offset="1" stop-color="#f3f4f6"/></linearGradient></defs>
<g stroke="#3cb49a" stroke-width="1.7" stroke-linejoin="round" fill="none">
<path d="M380.5,670 H368 C366,684 372,696 387,702 M381,673.5 H371.5 C371,684 376,692 385.5,697"/>
<path d="M425.5,670 H439 C441,684 435,696 420,702 M425,673.5 H435.5 C436,684 431,692 421.5,697"/>
<path d="M381,666 C380,690 388,705 398,709 H408 C418,705 426,690 425,666 Z" fill="url(#cupg)"/>
<rect x="379.5" y="660.8" width="48" height="5.2" rx="1" fill="#fff"/>
<path d="M398,709 L399,723 H407.5 L408.5,709" fill="#f1f2f4"/>
<path d="M393,723.5 H413.5 V727.5 H393 Z" fill="#eceef1"/>
<path d="M387.5,727.5 H419 V737.5 H387.5 Z" fill="#eef0f3"/>
<path d="M383.5,737.5 H423 V744.5 H383.5 Z" fill="#fff"/>
</g>
<rect x="396.5" y="730.5" width="13.5" height="4.5" fill="#3cb49a"/>
<text x="386.5" y="689.8" font-family="Liberation Sans" font-size="16.2" fill="#2f4a7e" stroke="#2f4a7e" stroke-width="0.7" textLength="33" lengthAdjust="spacingAndGlyphs">2026</text>
<defs><clipPath id="ffc"><path d="M335,693 C333,684 339,679 346,679.5 C352,680 356,684 358,687 L369,707 C370.5,711 368.5,713.5 365.5,715.5 L353,724.5 C350,725.5 348,723.5 347,721.5 L338,704 C336,700 335.3,696.5 335,693 Z"/></clipPath><clipPath id="hlc"><path d="M355,728.5 L373,716 C379,714.5 382,720 382,726 C382,735 378,742 371,742.5 C365,742.5 360,740 357,736 C355,733 354.2,730 355,728.5 Z"/></clipPath></defs>
<path d="M335,693 C333,684 339,679 346,679.5 C352,680 356,684 358,687 L369,707 C370.5,711 368.5,713.5 365.5,715.5 L353,724.5 C350,725.5 348,723.5 347,721.5 L338,704 C336,700 335.3,696.5 335,693 Z" fill="#2f4a7e"/>
<path d="M355,728.5 L373,716 C379,714.5 382,720 382,726 C382,735 378,742 371,742.5 C365,742.5 360,740 357,736 C355,733 354.2,730 355,728.5 Z" fill="#2f4a7e"/>
<g clip-path="url(#ffc)"><path d="M332,696 C340,692 348,688.5 359,684 M340.8,694 C341.5,702 344.5,710 350.5,717 M352,688 C357,694 361.5,700.5 364.5,708.5 M344.5,692 C347.5,699 351,707 354.5,716 M344.8,693.5 L340.3,697.0 M344.8,693.5 L351.8,694.5 M347.6,700.2 L343.1,703.7 M347.6,700.2 L354.6,701.2 M350.5,706.8 L346.0,710.3 M350.5,706.8 L357.5,707.8 M353.3,713.5 L348.8,717.0 M353.3,713.5 L360.3,714.5 M333,700.5 L341.3,699.5 M335.5,707.5 L342.8,705.5 M338.5,714.5 L345.5,711.5 M355,693.2 L362,691 M358.2,698.4 L365.5,696.5 M361.3,703.6 L368.5,702" stroke="#fff" stroke-width="1.05" fill="none"/></g>
<g clip-path="url(#hlc)"><path d="M354.2,733.9 L368.2,725.9 C370.2,724.9 371.2,726.4 373.2,724.9 L388.2,713.9 M356.3,736.8 L370.3,728.8 C372.3,727.8 373.3,729.3 375.3,727.8 L390.3,716.8 M358.5,739.6 L372.5,731.6 C374.5,730.6 375.5,732.1 377.5,730.6 L392.5,719.6" stroke="#fff" stroke-width="1.25" fill="none"/></g>
<text x="201.5" y="176.1" font-family="Liberation Sans" font-weight="bold" font-size="23.3" fill="#24272e" textLength="398" lengthAdjust="spacingAndGlyphs">TOP SHOE ACCESSORIES AT 2026 CANTON FAIR</text>
<text x="360.8" y="364.3" font-family="Liberation Sans" font-weight="bold" font-size="10.7" fill="#2b3550" textLength="79.5" lengthAdjust="spacingAndGlyphs">AI SMART SEARCH</text>
<text x="494.5" y="650.3" font-family="Liberation Sans" font-weight="bold" font-size="11.8" fill="#2b3348" textLength="117.5" lengthAdjust="spacingAndGlyphs">PERSONAL PREFERENCES</text>
<text x="341.3" y="773.9" font-family="Liberation Sans" font-weight="bold" font-size="19.2" fill="#24272e" textLength="121.5" lengthAdjust="spacingAndGlyphs">NEXT BIG TRENDS</text>
</svg>
</body></html>
